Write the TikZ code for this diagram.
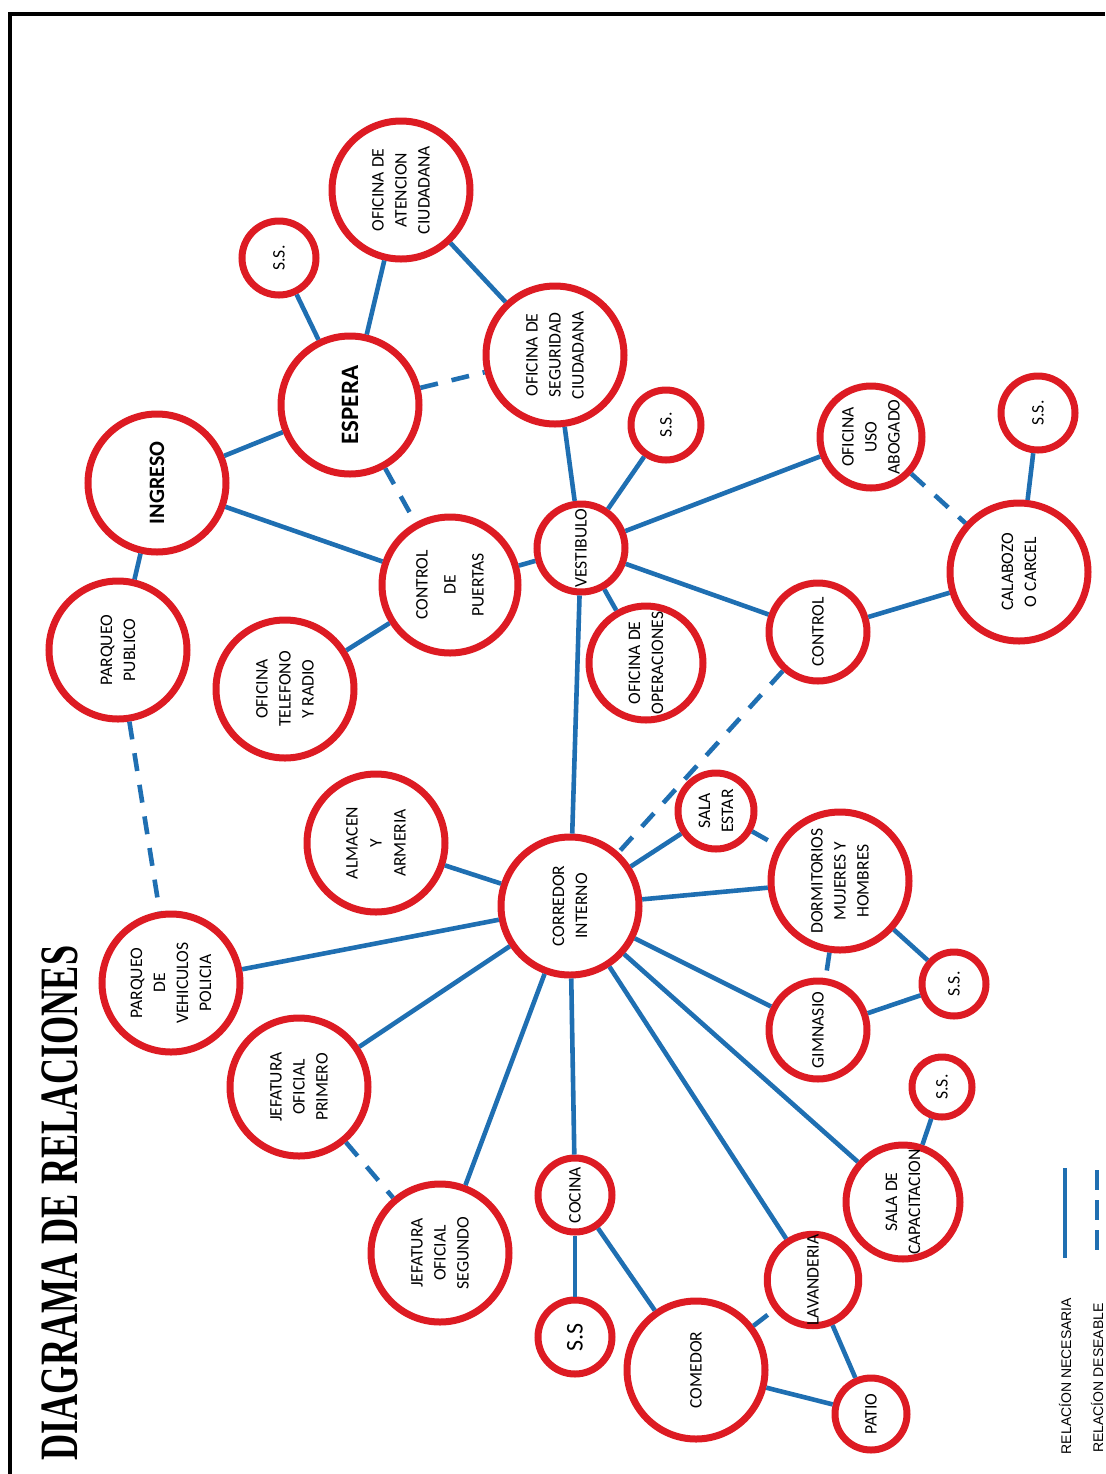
\documentclass[tikz,border=0pt]{standalone}
\usepackage{fontspec}
\setmainfont{Carlito}
\newfontfamily\oldfont{Liberation Serif}
\newfontfamily\handfont{Liberation Sans}
\definecolor{roomred}{RGB}{221,27,35}
\definecolor{linkblue}{RGB}{31,111,178}
\begin{document}
\begin{tikzpicture}[x=0.5pt,y=-0.5pt,
    room/.style={circle,draw=roomred,line width=3.5pt,fill=white,inner sep=0pt,rotate=90,align=center,font=\fontsize{8.8}{11.5}\selectfont},
    link/.style={draw=linkblue,line width=2.3pt},
    wish/.style={link,dash pattern=on 9pt off 7pt}]
     \useasboundingbox (0,0) rectangle (1105,1474);
     \draw[line width=2pt] (10,1474) -- (10,14) -- (1105,14);
     \node[rotate=90] (titulo) at (60,1203) {\scalebox{0.67}[1]{\oldfont\bfseries\fontsize{27}{27}\selectfont DIAGRAMA DE RELACIONES}};

     % entrada
     \node[room,minimum size=69pt] (atencion) at (401,190) {OFICINA DE\\ATENCION\\CIUDADANA};
     \node[room,minimum size=37pt] (ssespera) at (279,258) {S.S.};
     \node[room,minimum size=69pt,font=\bfseries\fontsize{12.5}{14}\selectfont] (espera) at (350,405) {ESPERA};
     \node[room,minimum size=69pt] (seguridad) at (555,355) {OFICINA DE\\SEGURIDAD\\CIUDADANA};
     \node[room,minimum size=35pt] (ssvest) at (666,425) {S.S.};
     \node[room,minimum size=69pt,font=\bfseries\fontsize{11}{13}\selectfont] (ingreso) at (157,483) {INGRESO};
     \node[room,minimum size=69pt] (pqpublico) at (118,650) {PARQUEO\\PUBLICO};
     \node[room,minimum size=68pt,font=\fontsize{8.8}{14}\selectfont] (ctrlpuertas) at (450,585) {CONTROL\\DE\\PUERTAS};
     \node[room,minimum size=69pt] (telefono) at (285,689) {OFICINA\\TELEFONO\\Y RADIO};
     \node[room,minimum size=44pt] (vestibulo) at (581,548) {VESTIBULO};
     \node[room,minimum size=57pt] (operaciones) at (646,663) {OFICINA DE\\OPERACIONES};
     \node[room,minimum size=49pt] (control) at (818,632) {CONTROL};
     \node[room,minimum size=51pt] (abogado) at (871,437) {OFICINA\\USO\\ABOGADO};
     \node[room,minimum size=37pt] (sscalabozo) at (1038,413) {S.S.};
     \node[room,minimum size=69pt] (calabozo) at (1019,572) {CALABOZO\\O CARCEL};

     % zona interna
     \node[room,minimum size=69pt,font=\fontsize{8.8}{12}\selectfont] (almacen) at (376,843) {ALMACEN\\Y\\ARMERIA};
     \node[room,minimum size=69pt] (corredor) at (570,906) {CORREDOR\\INTERNO};
     \node[room,minimum size=38pt] (salaestar) at (716,811) {SALA\\ESTAR};
     \node[room,minimum size=69pt] (dormitorios) at (840,881) {DORMITORIOS\\MUJERES Y\\HOMBRES};
     \node[room,minimum size=32pt] (ssdorm) at (954,984) {S.S.};
     \node[room,minimum size=49pt] (gimnasio) at (818,1030) {GIMNASIO};
     \node[room,minimum size=69pt] (pqvehiculos) at (171,983) {PARQUEO\\DE\\VEHICULOS\\POLICIA};
     \node[room,minimum size=69pt] (jefprimero) at (299,1087) {JEFATURA\\OFICIAL\\PRIMERO};
     \node[room,minimum size=69pt] (jefsegundo) at (440,1253) {JEFATURA\\OFICIAL\\SEGUNDO};
     \node[room,minimum size=37pt] (cocina) at (575,1195) {COCINA};
     \node[room,minimum size=37pt,font=\fontsize{12}{14}\selectfont] (sscocina) at (575,1337) {S.S};
     \node[room,minimum size=69pt] (comedor) at (696,1370) {COMEDOR};
     \node[room,minimum size=43pt] (lavanderia) at (813,1280) {LAVANDERIA};
     \node[room,minimum size=36pt] (patio) at (871,1414) {PATIO};
     \node[room,minimum size=57pt] (capacitacion) at (903,1202) {SALA DE\\CAPACITACION};
     \node[room,minimum size=30pt] (sscapac) at (942,1087) {S.S.};

     % relaciones necesarias
     \draw[link] (ssespera) -- (espera);
     \draw[link] (atencion) -- (espera);
     \draw[link] (atencion) -- (seguridad);
     \draw[link] (ingreso) -- (espera);
     \draw[link] (ingreso) -- (pqpublico);
     \draw[link] (ingreso) -- (ctrlpuertas);
     \draw[link] (ctrlpuertas) -- (telefono);
     \draw[link] (ctrlpuertas) -- (vestibulo);
     \draw[link] (seguridad) -- (vestibulo);
     \draw[link] (ssvest) -- (vestibulo);
     \draw[link] (vestibulo) -- (abogado);
     \draw[link] (vestibulo) -- (control);
     \draw[link] (vestibulo) -- (operaciones);
     \draw[link] (vestibulo) -- (corredor);
     \draw[link] (control) -- (calabozo);
     \draw[link] (sscalabozo) -- (calabozo);
     \draw[link] (corredor) -- (almacen);
     \draw[link] (corredor) -- (salaestar);
     \draw[link] (corredor) -- (dormitorios);
     \draw[link] (corredor) -- (gimnasio);
     \draw[link] (corredor) -- (capacitacion);
     \draw[link] (corredor) -- (lavanderia);
     \draw[link] (corredor) -- (cocina);
     \draw[link] (corredor) -- (jefsegundo);
     \draw[link] (corredor) -- (jefprimero);
     \draw[link] (corredor) -- (pqvehiculos);
     \draw[link] (dormitorios) -- (ssdorm);
     \draw[link] (gimnasio) -- (ssdorm);
     \draw[link] (capacitacion) -- (sscapac);
     \draw[link] (cocina) -- (sscocina);
     \draw[link] (cocina) -- (comedor);
     \draw[link] (comedor) -- (patio);
     \draw[link] (lavanderia) -- (patio);

     % relaciones deseables
     \draw[wish] (espera) -- (seguridad);
     \draw[wish] (espera) -- (ctrlpuertas);
     \draw[wish] (abogado) -- (calabozo);
     \draw[wish] (control) -- (corredor);
     \draw[wish] (salaestar) -- (dormitorios);
     \draw[wish] (dormitorios) -- (gimnasio);
     \draw[wish] (pqpublico) -- (pqvehiculos);
     \draw[wish] (jefprimero) -- (jefsegundo);
     \draw[wish] (comedor) -- (lavanderia);

     % leyenda
     \coordinate (nec1) at (1065,1168);
     \coordinate (nec2) at (1065,1258);
     \coordinate (des1) at (1097,1170);
     \coordinate (des2) at (1097,1252);
     \draw[link] (nec1) -- (nec2);
     \draw[link,dash pattern=on 10pt off 5pt] (des1) -- (des2);
     \node[rotate=90,font=\handfont\fontsize{7}{8}\selectfont] (lnec) at (1065,1376) {RELACÍON NECESARIA};
     \node[rotate=90,font=\handfont\fontsize{7}{8}\selectfont] (ldes) at (1097,1378) {RELACÍON DESEABLE};
\end{tikzpicture}
\end{document}
